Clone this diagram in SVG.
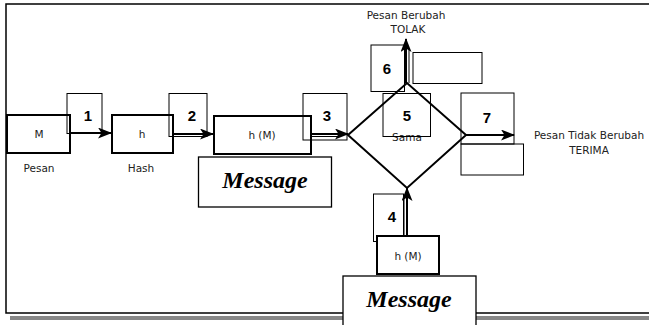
<svg xmlns="http://www.w3.org/2000/svg" width="649" height="325" viewBox="0 0 649 325">
<defs>
<marker id="ah" markerWidth="14" markerHeight="11" refX="13" refY="5.5" orient="auto" markerUnits="userSpaceOnUse">
<path d="M0,0 L14,5.5 L0,11 L3.5,5.5 z" fill="#000"/>
</marker>
<style>
.frame{fill:#fff;stroke:#000;stroke-width:1.5}
.node{fill:#fff;stroke:#000;stroke-width:2}
.lbl{fill:none;stroke:#000;stroke-width:1}
.msg{fill:#fff;stroke:#000;stroke-width:1.3}
.t{font-family:"DejaVu Sans",Verdana,sans-serif;font-size:10.5px;fill:#222;text-anchor:middle}
.n{font-family:"Liberation Sans",Arial,sans-serif;font-size:15px;font-weight:bold;fill:#000;text-anchor:middle}
.m{font-family:"Liberation Serif","Times New Roman",serif;font-size:24px;font-weight:bold;font-style:italic;fill:#000;text-anchor:middle}
.c{stroke:#000;stroke-width:2;fill:none}
.c2{stroke:#000;stroke-width:1;fill:none}
</style>
</defs>
<rect x="10" y="316" width="650" height="4" fill="#888"/>
<rect class="frame" x="6" y="4" width="660" height="309"/>
<g id="connectors">
<line class="c" x1="70" y1="133" x2="111" y2="133" marker-end="url(#ah)"/>
<line class="c" x1="173" y1="134" x2="213" y2="134" marker-end="url(#ah)"/>
<line class="c2" x1="173" y1="136.5" x2="205" y2="136.5"/>
<line class="c" x1="311" y1="134" x2="348" y2="134" marker-end="url(#ah)"/>
<line class="c2" x1="311" y1="136.5" x2="340" y2="136.5"/>
<line class="c" x1="406" y1="83" x2="406" y2="39" marker-end="url(#ah)"/>
<line class="c2" x1="409" y1="83" x2="409" y2="48"/>
<line class="c" x1="466" y1="135" x2="514" y2="135" marker-end="url(#ah)"/>
<line class="c" x1="407" y1="236" x2="407" y2="188" marker-end="url(#ah)"/>
<line class="c2" x1="404" y1="236" x2="404" y2="198"/>
</g>
<g id="nodeM"><rect class="node" x="7" y="115" width="63" height="38"/><text class="t" x="39" y="138">M</text></g>
<g id="labelPesan"><text class="t" x="39" y="172">Pesan</text></g>
<g id="nodeH"><rect class="node" x="112" y="115" width="61" height="38"/><text class="t" x="142" y="138">h</text></g>
<g id="labelHash"><text class="t" x="141" y="172">Hash</text></g>
<g id="nodeHM"><rect class="node" x="214" y="116" width="97" height="38"/><text class="t" x="262" y="139">h (M)</text></g>
<g id="message1"><rect class="msg" x="198.5" y="157" width="133" height="50"/><text class="m" x="265" y="188">Message</text></g>
<g id="label1"><rect class="lbl" x="67" y="93.5" width="35" height="40"/><text class="n" x="88" y="121">1</text></g>
<g id="label2"><rect class="lbl" x="169" y="93.5" width="38" height="43"/><text class="n" x="192" y="121">2</text></g>
<g id="label3"><rect class="lbl" x="303" y="93.5" width="44" height="46.5"/><text class="n" x="327" y="121">3</text></g>
<g id="decision"><polygon points="348,135 407,83 466,135 407,188" fill="none" stroke="#000" stroke-width="2"/></g>
<g id="label5"><text class="t" x="407" y="141" fill="#444">Sama</text><rect class="lbl" x="383" y="93.5" width="47.5" height="43"/><text class="n" x="407" y="121">5</text></g>
<g id="label6"><rect class="lbl" x="371" y="45" width="33.5" height="46.5"/><text class="n" x="387" y="74">6</text></g>
<g id="box61"><rect class="lbl" x="413" y="52.5" width="69" height="31"/></g>
<g id="labelTolak"><text class="t" x="406" y="19">Pesan Berubah</text><text class="t" x="408" y="33">TOLAK</text></g>
<g id="label7"><rect class="lbl" x="461" y="93" width="53" height="51"/><text class="n" x="487" y="123">7</text></g>
<g id="box71"><rect class="lbl" x="461" y="144" width="62.5" height="31"/></g>
<g id="labelTerima"><text class="t" x="589" y="139">Pesan Tidak Berubah</text><text class="t" x="589" y="154">TERIMA</text></g>
<g id="label4"><rect class="lbl" x="373.5" y="194" width="30" height="47.5"/><text class="n" x="392" y="222">4</text></g>
<g id="nodeHM2"><rect class="node" x="377" y="236" width="62" height="38"/><text class="t" x="408" y="260">h (M)</text></g>
<g id="message2"><rect class="msg" x="343" y="276" width="133" height="55"/><text class="m" x="409" y="307">Message</text></g>
</svg>
